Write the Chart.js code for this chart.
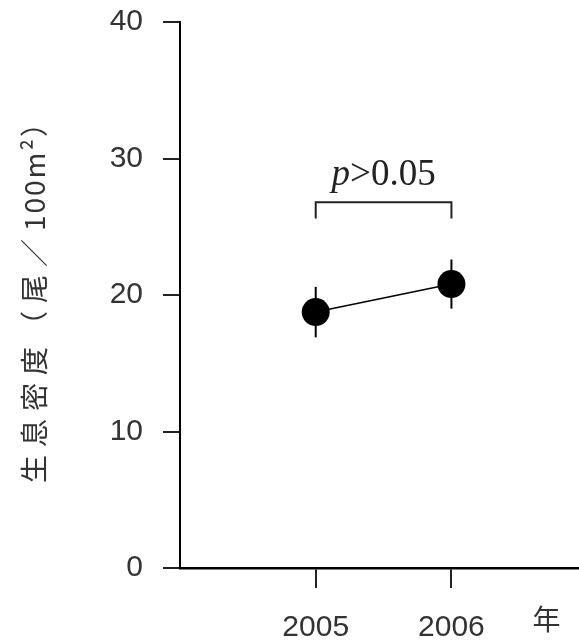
<!DOCTYPE html>
<html>
<head>
<meta charset="utf-8">
<script src="https://cdn.jsdelivr.net/npm/chart.js@4.4.1/dist/chart.umd.min.js"></script>
<style>
	html, body { margin: 0; padding: 0; background: #fff; }
	#wrap { width: 579px; height: 641px; }
</style>
</head>
<body>
<div id="wrap"><canvas id="chart"></canvas></div>
<script>
var years = [2005, 2006];
var density = [18.75, 20.8];
var errors = [1.85, 1.8];
var yTicks = [0, 10, 20, 30, 40];
var yTitleParts = ['生息密度（尾／', '100m²）'];
var xUnit = '年';
// significance bracket between the two years
var bracketTop = 26.8;
var bracketLeg = 25.6;
var pValueY = 28.05;

var tickFont = { family: '"Liberation Sans", Arial, sans-serif', size: 30 };

var extras = {
	id: 'extras',
	beforeDatasetsDraw: function (chart) {
		var ctx = chart.ctx;
		var x = chart.scales.x, y = chart.scales.y;
		ctx.save();
		ctx.strokeStyle = '#000';
		ctx.lineWidth = 2;
		years.forEach(function (yr, i) {
			var px = x.getPixelForValue(yr);
			ctx.beginPath();
			ctx.moveTo(px, y.getPixelForValue(density[i] - errors[i]));
			ctx.lineTo(px, y.getPixelForValue(density[i] + errors[i]));
			ctx.stroke();
		});
		ctx.restore();
	},
	afterDraw: function (chart) {
		var ctx = chart.ctx;
		var x = chart.scales.x, y = chart.scales.y;
		var x1 = x.getPixelForValue(years[0]);
		var x2 = x.getPixelForValue(years[1]);
		ctx.save();
		ctx.strokeStyle = '#222';
		ctx.lineWidth = 2;
		ctx.beginPath();
		ctx.moveTo(x1, y.getPixelForValue(bracketLeg));
		ctx.lineTo(x1, y.getPixelForValue(bracketTop));
		ctx.lineTo(x2, y.getPixelForValue(bracketTop));
		ctx.lineTo(x2, y.getPixelForValue(bracketLeg));
		ctx.stroke();

		// p>0.05, italic p
		var italic = 'italic 37px "Liberation Serif", serif';
		var normal = '37px "Liberation Serif", serif';
		ctx.font = italic;
		var w1 = ctx.measureText('p').width;
		ctx.font = normal;
		var w2 = ctx.measureText('>0.05').width;
		var start = (x1 + x2) / 2 - (w1 + w2) / 2;
		var base = y.getPixelForValue(pValueY);
		ctx.fillStyle = '#222';
		ctx.textBaseline = 'alphabetic';
		ctx.textAlign = 'left';
		ctx.font = italic;
		ctx.fillText('p', start, base);
		ctx.font = normal;
		ctx.fillText('>0.05', start + w1, base);

		// unit label to the right of the year ticks
		ctx.font = '28px "Noto Sans CJK JP", sans-serif';
		ctx.textAlign = 'center';
		ctx.textBaseline = 'middle';
		ctx.fillStyle = '#333';
		ctx.fillText(xUnit, x.getPixelForValue(2006.7), 619);

		// y axis title, rotated; wide spacing on the kanji part only
		ctx.textAlign = 'left';
		ctx.translate(34, (chart.chartArea.top + chart.chartArea.bottom) / 2);
		ctx.rotate(-Math.PI / 2);
		ctx.letterSpacing = '8px';
		var a = ctx.measureText(yTitleParts[0]).width;
		ctx.letterSpacing = '2px';
		var b = ctx.measureText(yTitleParts[1]).width;
		var s = -(a + b) / 2;
		ctx.letterSpacing = '8px';
		ctx.fillText(yTitleParts[0], s, 0);
		ctx.letterSpacing = '2px';
		ctx.fillText(yTitleParts[1], s + a, 0);
		ctx.restore();
	}
};

new Chart(document.getElementById('chart'), {
	type: 'line',
	data: {
		labels: years,
		datasets: [{
			data: years.map(function (yr, i) { return { x: yr, y: density[i] }; }),
			borderColor: '#000',
			borderWidth: 1.5,
			backgroundColor: '#000',
			pointRadius: 14,
			pointBackgroundColor: '#000',
			pointBorderWidth: 0
		}]
	},
	options: {
		responsive: true,
		maintainAspectRatio: false,
		animation: false,
		layout: { autoPadding: false, padding: { top: 22, right: 0, left: 0, bottom: 0 } },
		plugins: {
			legend: { display: false },
			tooltip: { enabled: false }
		},
		scales: {
			x: {
				type: 'linear',
				min: 2004,
				max: 2006.94,
				afterBuildTicks: function (scale) {
					scale.ticks = years.map(function (v) { return { value: v }; });
				},
				afterFit: function (scale) { scale.height = 73; },
				grid: { drawOnChartArea: false, color: '#222', lineWidth: 2, tickLength: 20 },
				border: { color: '#000', width: 2.5 },
				ticks: {
					color: '#333',
					font: tickFont,
					padding: 22,
					maxRotation: 0,
					callback: function (v) { return String(v); }
				}
			},
			y: {
				min: 0,
				max: 40,
				afterBuildTicks: function (scale) {
					scale.ticks = yTicks.map(function (v) { return { value: v }; });
				},
				afterFit: function (scale) {
					scale.width = 180;
					scale.paddingTop = 0;
					scale.paddingBottom = 0;
				},
				grid: { drawOnChartArea: false, color: '#222', lineWidth: 2, tickLength: 17 },
				border: { color: '#000', width: 2 },
				ticks: { color: '#333', font: tickFont, padding: 20 }
			}
		}
	},
	plugins: [extras]
});
</script>
</body>
</html>
